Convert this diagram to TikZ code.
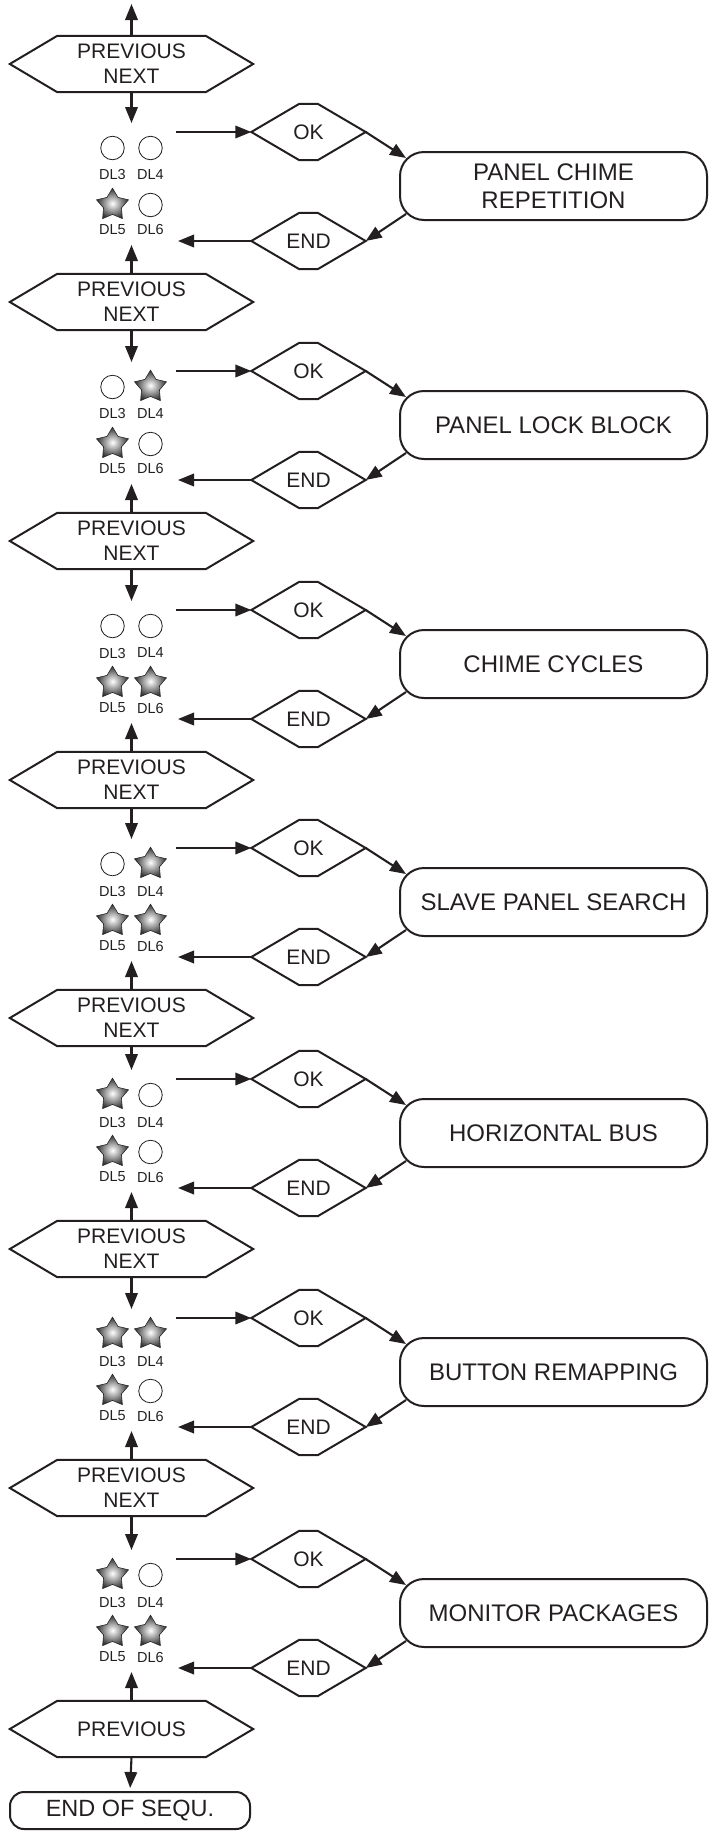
\documentclass[tikz,border=0pt]{standalone}
\usepackage{fontspec}
\setmainfont{Liberation Sans}
\usetikzlibrary{arrows.meta,calc,shapes.geometric}
\definecolor{ink}{HTML}{231F20}
\tikzset{
  flow/.style={draw=ink, line width=2.1pt, -{Triangle[length=16pt,width=12.5pt]}},
  hexnode/.style={minimum width=243pt, minimum height=56pt, inner sep=0pt, align=center,
    font=\fontsize{21}{25}\selectfont, text=ink},
  dianode/.style={minimum width=114pt, minimum height=56pt, inner sep=0pt,
    font=\fontsize{21}{25}\selectfont, text=ink},
  boxnode/.style={draw=ink, line width=2pt, rounded corners=24pt, minimum width=307pt,
    minimum height=68pt, inner sep=0pt, align=center, font=\fontsize{24}{28}\selectfont, text=ink},
  ledoff/.style={circle, draw=ink, line width=0.8pt, minimum size=23.5pt, inner sep=0pt},
  ledon/.style={draw=gray!30!black, line width=0.6pt, line join=miter,
    inner color=white, outer color=gray!40!black},
  ledlabel/.style={font=\fontsize{14.5}{16}\selectfont, text=ink, inner sep=0pt},
  hexline/.style={draw=ink, line width=2pt, line join=miter},
}
\newcommand{\hexshape}[2]{%
  \draw[hexline] (#1.west) -- ($(#1.north west)+(#2,0)$) -- ($(#1.north east)+(-#2,0)$)
    -- (#1.east) -- ($(#1.south east)+(-#2,0)$) -- ($(#1.south west)+(#2,0)$) -- cycle;}
\newcommand{\ledstar}[3]{%
  \coordinate (#1) at (#2,#3);
  \path[ledon] (#1) +(270:16.8) \foreach \i in {0,...,4}{ -- +({306+72*\i}:9.4) -- +({342+72*\i}:16.8)} -- cycle;}
\newcommand{\ledat}[4]{%
  \ifnum#4=1 \ledstar{#1}{#2}{#3}\else \node[ledoff] (#1) at (#2,#3) {};\fi}
\begin{document}
\begin{tikzpicture}[x=1pt,y=-1pt]
\useasboundingbox (0,0) rectangle (709,1831);
% navigation hexagons
\foreach \k/\h in {0/64,1/302,2/541,3/780,4/1018,5/1249,6/1488}{
  \node[hexnode] (h\k) at (131.5,\h) {PREVIOUS\\NEXT};
  \hexshape{h\k}{47.5}
}
\node[hexnode] (h7) at (131.5,1729) {PREVIOUS};
\hexshape{h7}{47.5}
% top arrow
\coordinate (top) at (131.5,4);
\draw[flow] (h0.north) -- (top);
% sections
\foreach \k/\kk/\n/\txt/\a/\b/\c/\d in {
  0/1/302/{PANEL CHIME\\REPETITION}/0/0/1/0,
  1/2/541/{PANEL LOCK BLOCK}/0/1/1/0,
  2/3/780/{CHIME CYCLES}/0/0/1/1,
  3/4/1018/{SLAVE PANEL SEARCH}/0/1/1/1,
  4/5/1249/{HORIZONTAL BUS}/1/0/1/0,
  5/6/1488/{BUTTON REMAPPING}/1/1/1/0,
  6/7/1729/{MONITOR PACKAGES}/1/0/1/1}{
  % down arrow and up arrow
  \coordinate (dt\k) at (131.5,{\n-179});
  \draw[flow] (h\k.south) -- (dt\k);
  \coordinate (ut\k) at (131.5,{\n-57});
  \draw[flow] (h\kk.north) -- (ut\k);
  % LEDs
  \ledat{d3\k}{112.5}{\n-154}{\a}
  \ledat{d4\k}{150.5}{\n-154}{\b}
  \ledat{d5\k}{112.5}{\n-97}{\c}
  \ledat{d6\k}{150.5}{\n-97}{\d}
  \node[ledlabel] (t3\k) at (112.5,{\n-127}) {DL3};
  \node[ledlabel] (t4\k) at (150.5,{\n-127}) {DL4};
  \node[ledlabel] (t5\k) at (112.5,{\n-72}) {DL5};
  \node[ledlabel] (t6\k) at (150.5,{\n-72}) {DL6};
  % OK / box / END
  \node[dianode] (ok\k) at (308.5,{\n-170}) {OK};
  \hexshape{ok\k}{48}
  \node[dianode] (e\k) at (308.5,{\n-61}) {END};
  \hexshape{e\k}{48}
  \node[boxnode] (b\k) at (553.5,{\n-116}) {\txt};
  \coordinate (os\k) at (176,{\n-170});
  \draw[flow] (os\k) -- (ok\k.west);
  \draw[flow] (ok\k.east) -- ($(b\k.north west)+(7,7)$);
  \draw[flow] ($(b\k.south west)+(7,-7)$) -- (e\k.east);
  \coordinate (es\k) at (178,{\n-61});
  \draw[flow] (e\k.west) -- (es\k);
}
% end of sequence
\node[draw=ink, line width=2pt, rounded corners=14pt, minimum width=240pt, minimum height=37pt,
  inner sep=0pt, font=\fontsize{23.5}{26}\selectfont, text=ink] (eos) at (130,1810.5) {END OF SEQU.};
\draw[flow, shorten >=3pt] (h7.south) -- (eos.north);
\end{tikzpicture}
\end{document}
